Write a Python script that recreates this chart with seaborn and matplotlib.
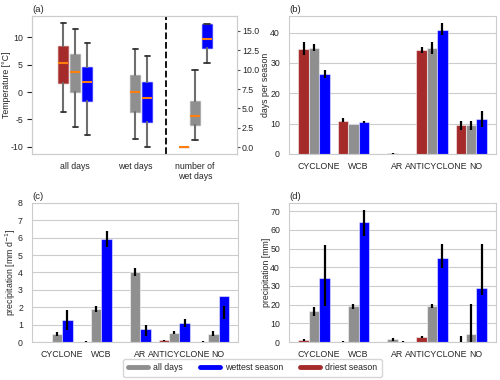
import numpy as np
import pandas as pd
import matplotlib
matplotlib.use('Agg')
import matplotlib.pyplot as plt
from matplotlib.lines import Line2D
import seaborn as sns

sns.set_style('whitegrid')
plt.rcParams['font.family'] = ['Liberation Sans', 'DejaVu Sans']
plt.rcParams['font.size'] = 6.3
plt.rcParams['axes.unicode_minus'] = False

RED = '#a52a2a'
GREY = '#8f8f8f'
BLUE = '#0000ff'
ORANGE = '#ff7f0e'

# ---- panel (a): temperature boxes (left axis) ----
temp_groups = ['all days', 'wet days', 'number of\nwet days']
temp_pos = [-0.2, 0.0, 0.2, 1.0, 1.2]
temp_colors = [RED, GREY, BLUE, GREY, BLUE]
temp_whislo = [-3.7, -6.3, -7.8, -8.5, -10.1]
temp_q1 = [1.7, 0.0, -1.7, -3.6, -5.4]
temp_med = [5.3, 3.6, 1.8, 0.0, -1.0]
temp_q3 = [8.5, 7.0, 4.6, 3.1, 1.9]
temp_whishi = [12.7, 11.5, 8.9, 7.8, 6.6]

# number of wet days (right axis)
nwet_pos = [1.82, 2.0, 2.2]
nwet_colors = [RED, GREY, BLUE]
nwet_whislo = [0.0, 0.9, 10.9]
nwet_q1 = [0.0, 2.9, 12.8]
nwet_med = [0.0, 4.0, 13.9]
nwet_q3 = [0.0, 6.0, 15.9]
nwet_whishi = [0.0, 10.0, 15.9]

# ---- bar panels ----
categories = ['CYCLONE', 'WCB', 'AR', 'ANTICYCLONE', 'NO']
seasons = ['driest season', 'all days', 'wettest season']

days_driest = [34.5, 11.0, 0.0, 34.2, 9.4]
days_all = [35.0, 9.8, 0.2, 35.0, 9.4]
days_wettest = [26.3, 10.5, 0.0, 40.9, 11.5]
days_lo = [[32.6, 10.4, 0.0, 33.4, 8.0], [33.9, 9.7, 0.0, 33.1, 8.0], [25.2, 10.2, 0.0, 39.1, 9.0]]
days_hi = [[37.0, 11.8, 0.0, 35.1, 10.9], [36.3, 10.0, 0.4, 36.8, 10.7], [27.7, 10.9, 0.0, 43.1, 14.0]]

rate_driest = [0.0, 0.02, 0.0, 0.09, 0.0]
rate_all = [0.46, 1.9, 4.05, 0.54, 0.46]
rate_wettest = [1.27, 5.93, 0.75, 1.1, 2.65]
rate_lo = [[0.0, 0.0, 0.0, 0.07, 0.0], [0.35, 1.75, 3.78, 0.46, 0.37], [0.71, 5.47, 0.33, 0.86, 1.35]]
rate_hi = [[0.02, 0.06, 0.0, 0.1, 0.08], [0.58, 2.05, 4.28, 0.63, 0.61], [1.82, 6.39, 1.0, 1.34, 2.07]]

tot_driest = [1.1, 0.0, 0.0, 2.5, 0.0]
tot_all = [16.4, 19.1, 1.4, 19.1, 4.3]
tot_wettest = [34.1, 64.3, 0.0, 45.2, 29.1]
tot_lo = [[0.7, 0.0, 0.0, 2.1, 0.0], [13.8, 17.9, 0.7, 18.2, 0.0], [19.3, 57.0, 0.0, 39.6, 25.0]]
tot_hi = [[1.4, 0.7, 0.0, 3.0, 3.0], [18.9, 20.5, 2.1, 20.2, 20.5], [51.8, 70.5, 0.3, 52.5, 52.3]]


def box_stats(whislo, q1, med, q3, whishi):
    return [dict(whislo=a, q1=b, med=c, q3=d, whishi=e, fliers=[])
            for a, b, c, d, e in zip(whislo, q1, med, q3, whishi)]


def draw_boxes(ax, stats, pos, colors):
    bp = ax.bxp(stats, positions=pos, widths=0.17, patch_artist=True,
                showfliers=False,
                whiskerprops=dict(color='#6e6e6e', lw=1.5),
                capprops=dict(color='#333333', lw=1.3),
                medianprops=dict(color=ORANGE, lw=1.5))
    for patch, c in zip(bp['boxes'], colors):
        patch.set_facecolor(c)
        patch.set_edgecolor(matplotlib.colors.to_rgba(c, 0.45))
        patch.set_linewidth(1.0)
    return bp


def bar_panel(ax, vals, lo, hi, ylabel, ylim, label_x):
    df = pd.DataFrame({
        'cat': categories * 3,
        'season': np.repeat(seasons, len(categories)),
        'val': np.concatenate(vals),
    })
    sns.barplot(data=df, x='cat', y='val', hue='season', hue_order=seasons,
                palette=[RED, GREY, BLUE], saturation=1, errorbar=None,
                legend=False, edgecolor=(1, 1, 1, 0.5), linewidth=0.8, ax=ax)
    for cont, l, h in zip(ax.containers, lo, hi):
        xs = [b.get_x() + b.get_width() / 2 for b in cont]
        ax.vlines(xs, l, h, color='black', lw=1.6, zorder=5)
    ax.set_xticks(np.arange(len(categories)) + 0.12, labels=categories)
    ax.set_xlim(-0.64, 4.63)
    ax.set_ylim(*ylim)
    ax.set_xlabel('')
    ax.set_ylabel(ylabel)
    ax.yaxis.set_label_coords(label_x, 0.5)
    ax.tick_params(axis='x', pad=2)
    ax.tick_params(axis='y', pad=3)
    ax.xaxis.grid(False)


fig = plt.figure(figsize=(5, 3.8), dpi=100)
ax_a = fig.add_axes([0.064, 0.595, 0.41, 0.363])
ax_b = fig.add_axes([0.578, 0.595, 0.414, 0.363])
ax_c = fig.add_axes([0.064, 0.1, 0.412, 0.366])
ax_d = fig.add_axes([0.578, 0.1, 0.414, 0.366])

# (a)
ax_a.grid(False)
draw_boxes(ax_a, box_stats(temp_whislo, temp_q1, temp_med, temp_q3, temp_whishi),
           temp_pos, temp_colors)
ax_a.set_ylim(-11.3, 13.9)
ax_a.set_yticks([-10, -5, 0, 5, 10])
ax_a.set_ylabel('Temperature [°C]')
ax_a.yaxis.set_label_coords(-0.103, 0.5)
ax_a.axvline(1.51, color='black', ls='--', lw=1.3)
ax_r = ax_a.twinx()
ax_r.grid(False)
draw_boxes(ax_r, box_stats(nwet_whislo, nwet_q1, nwet_med, nwet_q3, nwet_whishi),
           nwet_pos, nwet_colors)
ax_r.set_ylim(-0.85, 16.9)
ax_r.set_yticks(np.arange(0, 15.1, 2.5))
ax_r.set_yticklabels([f'{v:.1f}' for v in np.arange(0, 15.1, 2.5)])
ax_r.tick_params(axis='y', length=2, color='#555555', pad=1.5)
ax_a.set_xticks([0, 1, 2], labels=temp_groups)
ax_a.set_xlim(-0.72, 2.7)
ax_a.tick_params(axis='x', pad=2)
ax_a.tick_params(axis='y', pad=3)
ax_a.set_title('(a)', loc='left', fontsize=6.8, pad=3)

# (b)
bar_panel(ax_b, [days_driest, days_all, days_wettest], days_lo, days_hi,
          'days per season', (0, 45.5), -0.09)
ax_b.set_yticks([0, 10, 20, 30, 40])
ax_b.set_title('(b)', loc='left', fontsize=6.8, pad=3)

# (c)
bar_panel(ax_c, [rate_driest, rate_all, rate_wettest], rate_lo, rate_hi,
          'precipitation [mm d$^{-1}$]', (0, 8), -0.068)
ax_c.set_yticks(range(9))
ax_c.set_title('(c)', loc='left', fontsize=6.8, pad=3)

# (d)
bar_panel(ax_d, [tot_driest, tot_all, tot_wettest], tot_lo, tot_hi,
          'precipitation [mm]', (0, 74.5), -0.087)
ax_d.set_yticks(range(0, 71, 10))
ax_d.set_title('(d)', loc='left', fontsize=6.8, pad=3)

handles = [Line2D([], [], color=GREY, lw=3.5),
           Line2D([], [], color=BLUE, lw=3.5),
           Line2D([], [], color=RED, lw=3.5)]
fig.legend(handles, ['all days', 'wettest season', 'driest season'],
           loc='center', bbox_to_anchor=(0.505, 0.032), ncol=3, fontsize=6.3,
           handlelength=2.3, columnspacing=1.9, handletextpad=0.6,
           borderpad=0.5, frameon=True, edgecolor='#cccccc')

fig.savefig('out.png', dpi=100)
